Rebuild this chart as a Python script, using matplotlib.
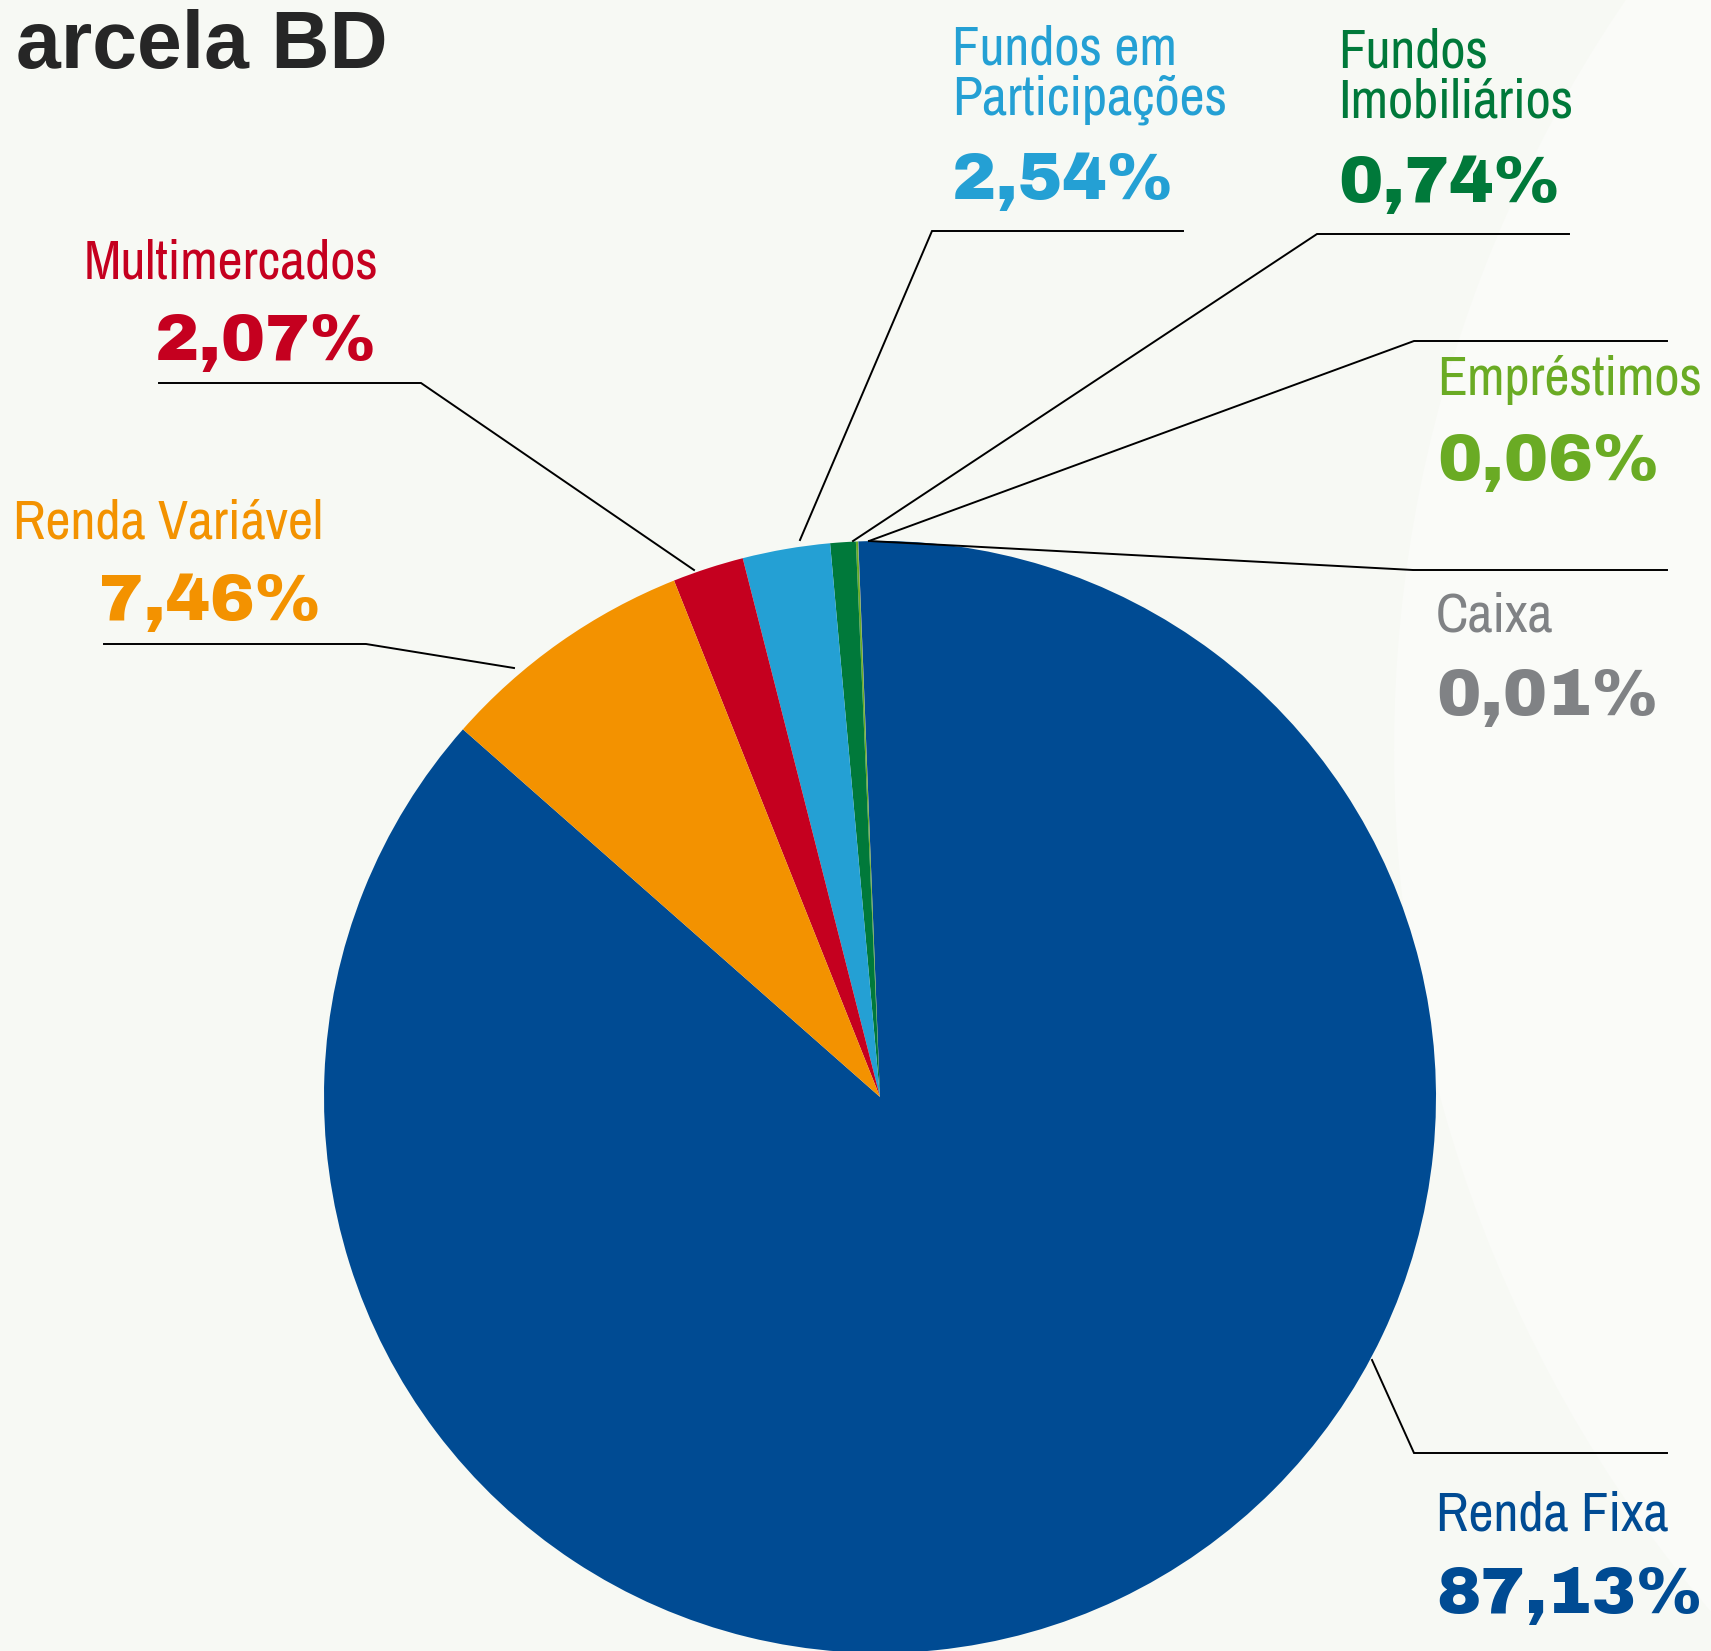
import matplotlib
matplotlib.use("Agg")
import matplotlib.pyplot as plt
from matplotlib.patches import Circle

# Carteira - parcela BD (percent of total)
categories = ["Renda Fixa", "Caixa", "Empréstimos", "Fundos Imobiliários",
              "Fundos em Participações", "Multimercados", "Renda Variável"]
shares = [87.13, 0.01, 0.06, 0.74, 2.54, 2.07, 7.46]
share_labels = ["87,13%", "0,01%", "0,06%", "0,74%", "2,54%", "2,07%", "7,46%"]
# label text as printed (some names broken over two lines)
label_lines = [["Renda Fixa"], ["Caixa"], ["Empréstimos"], ["Fundos", "Imobiliários"],
               ["Fundos em", "Participações"], ["Multimercados"], ["Renda Variável"]]
colors = ["#004b93", "#808285", "#6aab24", "#00793a", "#24a0d4", "#c5001f", "#f39200"]

W, H = 1711, 1651
BG = "#f7f9f4"

cond = ["Archivo Narrow", "Roboto Condensed", "PT Sans Narrow", "DejaVu Sans"]
heavy = ["Archivo Black", "Roboto", "DejaVu Sans"]

fig = plt.figure(figsize=(W / 100, H / 100), dpi=100, facecolor=BG)
ax = fig.add_axes([0, 0, 1, 1])
ax.set_facecolor(BG)

# faint lighter disc in the background on the right
ax.add_patch(Circle((2724, H - 750), 1330, color="#fafbf8", zorder=0, lw=0))

ax.pie(shares, colors=colors, startangle=138.6, counterclock=True,
       center=(880, H - 1097), radius=556,
       wedgeprops=dict(linewidth=0, antialiased=True))

ax.set_xlim(0, W)
ax.set_ylim(0, H)
ax.set_aspect("auto")
ax.axis("off")

# leader lines (pixel positions, top-left origin)
leaders = {
    "Renda Fixa": [(1667, 1453), (1414, 1453), (1372, 1360)],
    "Caixa": [(1667, 570), (1413, 570), (869, 541)],
    "Empréstimos": [(1667, 341), (1414, 341), (869, 541)],
    "Fundos Imobiliários": [(1569, 234), (1317, 234), (853, 541)],
    "Fundos em Participações": [(1183, 231), (932, 231), (800, 540)],
    "Multimercados": [(159, 383), (421, 383), (694, 570)],
    "Renda Variável": [(104, 644), (366, 644), (514, 668)],
}
for name, pts in leaders.items():
    ax.plot([p[0] for p in pts], [H - p[1] for p in pts], color="black", lw=1.4,
            solid_joinstyle="miter", zorder=3)

# label placement: x, alignment, baseline of first line, baseline of percent
place = {
    "Renda Fixa": (1436, "left", 1530, 1613),
    "Caixa": (1436, "left", 631, 715),
    "Empréstimos": (1437, "left", 395, 480),
    "Fundos Imobiliários": (1338, "left", 67, 202),
    "Fundos em Participações": (952, "left", 64, 199),
    "Multimercados": (379, "right", 278, 360),
    "Renda Variável": (323, "right", 538, 620),
}
for name, lines, pct, col in zip(categories, label_lines, share_labels, colors):
    x, ha, b0, bp = place[name]
    for i, ln in enumerate(lines):
        ax.text(x, H - (b0 + 50 * i), ln, ha=ha, va="baseline", color=col,
                fontsize=39.5, family=cond)
    ax.text(x - 2 if ha == "right" else x, H - bp, pct, ha=ha, va="baseline",
            color=col, fontsize=48, family=heavy, fontweight="black")

ax.text(388, H - 68, "arcela BD", ha="right", va="baseline", color="#262626",
        fontsize=58, family=["Liberation Sans", "DejaVu Sans"], fontweight="bold")

fig.savefig("out.png", dpi=100, facecolor=BG)
